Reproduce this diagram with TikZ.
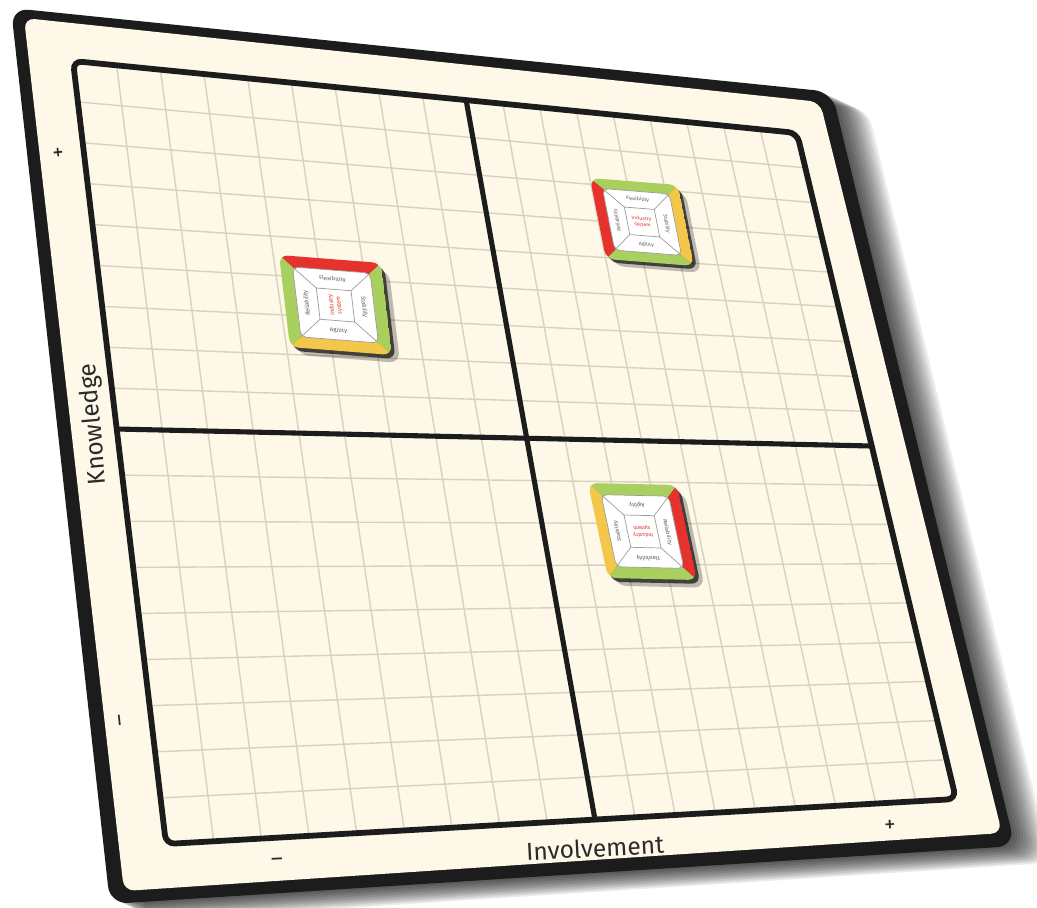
\documentclass[tikz,border=0pt]{standalone}
\usepackage{fontspec}
\setmainfont{Fira Sans}
\usetikzlibrary{calc}
\definecolor{ink}{HTML}{2B2B2B}
\definecolor{board}{HTML}{1C1C1C}
\definecolor{paper}{HTML}{FDF8E7}
\definecolor{gridtan}{HTML}{D9D1BE}
\definecolor{cardred}{HTML}{E5322D}
\definecolor{cardgreen}{HTML}{A9CF5E}
\definecolor{cardyellow}{HTML}{F3C84A}
\definecolor{cardline}{HTML}{9C9C9C}

% one card: cm, top, right, bottom, left colour, content turn, core turn, name
\newcommand{\card}[8]{%
  \begin{scope}[cm={#1}]
    \fill[black, opacity=0.25, rounded corners=6pt] (7,8) rectangle (107,108);
    \fill[black, opacity=0.65, rounded corners=5pt] (3,4) rectangle (103,104);
    \begin{scope}
      \clip[rounded corners=5pt] (0,0) rectangle (100,100);
      \fill[#2] (0,0) -- (100,0) -- (50,50) -- cycle;
      \fill[#3] (100,0) -- (100,100) -- (50,50) -- cycle;
      \fill[#4] (100,100) -- (0,100) -- (50,50) -- cycle;
      \fill[#5] (0,100) -- (0,0) -- (50,50) -- cycle;
    \end{scope}
    \draw[cardedge, fill=white, rounded corners=3pt] (12,12) rectangle (88,88);
    \draw[cardedge] (33,33) rectangle (67,67);
    \draw[cardedge] (13,13) -- (33,33) (87,13) -- (67,33) (87,87) -- (67,67) (13,87) -- (33,67);
    \begin{scope}[rotate around={#6:(50,50)}]
      \node[cardtext] (#8top) at (50,22) {Flexibility};
      \node[cardtext, rotate=-90] (#8right) at (78,50) {Stability};
      \node[cardtext] (#8bottom) at (50,78) {Agility};
      \node[cardtext, rotate=90] (#8left) at (22,50) {Reliability};
      \node[cardcore, rotate=#7] (#8core) at (50,50) {Industry\\system};
    \end{scope}
  \end{scope}}

\begin{document}
\begin{tikzpicture}[x=0.02cm, y=-0.02cm,
  gridline/.style={draw=gridtan, line width=0.8pt},
  divider/.style={draw=board, line width=2.9pt},
  frame/.style={draw=board, line width=3.3pt, rounded corners=5pt},
  axislabel/.style={font=\fontsize{14}{14}\selectfont, text=ink},
  axismark/.style={font=\fontsize{13}{13}\selectfont, text=ink},
  cardedge/.style={draw=cardline, line width=0.4pt},
  cardtext/.style={font=\fontsize{3.4}{4}\selectfont, text=black!65, inner sep=0pt, transform shape},
  cardcore/.style={font=\fontsize{3.4}{4.2}\selectfont, text=cardred, align=center, inner sep=0pt, transform shape},
]
\fill[white] (0,0) rectangle (1037,908);
\useasboundingbox (0,0) rectangle (1037,908);

% board
\foreach \k in {1,...,12}
  \fill[black, opacity=0.08, rounded corners=10pt, shift={(3*\k,1.4*\k)}]
    (11,8) -- (832,92) -- (1015,846) -- (110,904) -- cycle;
\coordinate (boardTL) at (11,8);
\coordinate (boardTR) at (832,92);
\coordinate (boardBR) at (1015,846);
\coordinate (boardBL) at (110,904);
\fill[board, rounded corners=10pt] (boardTL) -- (boardTR) -- (boardBR) -- (boardBL) -- cycle;
\fill[paper, rounded corners=6pt] (24,18) -- (820,102) -- (1002,833) -- (124,891) -- cycle;

% grid
\coordinate (TL) at (73,61);
\coordinate (TR) at (797,133);
\coordinate (BR) at (956,799);
\coordinate (BL) at (166,844);
\foreach \i in {1,...,8}{
  \pgfmathsetmacro\ua{0.543*\i/9}
  \pgfmathsetmacro\ub{0.543+0.457*\i/9}
  \pgfmathsetmacro\va{0.47*\i/9}
  \pgfmathsetmacro\vb{0.47+0.53*\i/9}
  \draw[gridline] ($(TL)!\ua!(TR)$) -- ($(BL)!\ua!(BR)$);
  \draw[gridline] ($(TL)!\ub!(TR)$) -- ($(BL)!\ub!(BR)$);
  \draw[gridline] ($(TL)!\va!(BL)$) -- ($(TR)!\va!(BR)$);
  \draw[gridline] ($(TL)!\vb!(BL)$) -- ($(TR)!\vb!(BR)$);
}
\coordinate (divT) at ($(TL)!0.543!(TR)$);
\coordinate (divB) at ($(BL)!0.543!(BR)$);
\coordinate (divL) at ($(TL)!0.47!(BL)$);
\coordinate (divR) at ($(TR)!0.47!(BR)$);
\draw[divider] (divT) -- (divB);
\draw[divider] (divL) -- (divR);
\draw[frame] (TL) -- (TR) -- (BR) -- (BL) -- cycle;

% axes
\node[axislabel, rotate=95] (knowledge) at (94,424) {Knowledge};
\node[axislabel, rotate=3] (involvement) at (595,848) {Involvement};
\node[axismark, rotate=96] (kplus) at (60,152) {+};
\node[axismark, rotate=96] (kminus) at (123,720) {–};
\node[axismark, rotate=3] (iminus) at (277,862) {–};
\node[axismark, rotate=3] (iplus) at (890,826) {+};

% cards
\card{1.02,-0.08,-0.11,0.92,(279,255)}{cardred}{cardgreen}{cardyellow}{cardgreen}{0}{90}{cardA}
\card{0.88,-0.07,-0.16,0.81,(590,178)}{cardgreen}{cardyellow}{cardgreen}{cardred}{0}{0}{cardB}
\card{0.89,-0.02,-0.20,0.95,(588,483)}{cardgreen}{cardred}{cardgreen}{cardyellow}{180}{0}{cardC}
\end{tikzpicture}
\end{document}
